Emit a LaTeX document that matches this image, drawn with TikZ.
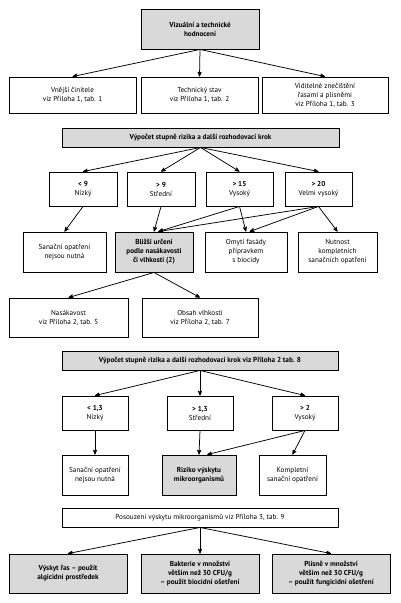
\documentclass[tikz,border=0pt]{standalone}
\usepackage{fontspec}
\setmainfont{PT Sans}
\usetikzlibrary{arrows.meta,arrows,positioning}

\tikzset{
    box/.style={draw,line width=0.9pt,align=center,inner sep=1pt,font=\fontsize{7.2}{9}\selectfont},
    greybox/.style={box,fill=black!15,font=\fontsize{7.2}{9}\selectfont\bfseries},
    mystyle/.style={->,line width=0.75pt}
}

\begin{document}
\begin{tikzpicture}[>=stealth',x=1pt,y=-1pt]
    \useasboundingbox (0,0) rectangle (400,603);

    \node[greybox,minimum width=118pt,minimum height=40pt] (H) at (200,29) {Vizuální a technické\\hodnocení};
    \node[box,minimum width=127pt,minimum height=36pt] (H_C1) at (72.5,95) {Vnější činitele\\viz Příloha 1, tab. 1};
    \node[box,minimum width=117pt,minimum height=36pt] (H_C2) at (199.5,95) {Technický stav\\viz Příloha 1, tab. 2};
    \node[box,minimum width=126pt,minimum height=36pt] (H_C3) at (325,95) {Viditelné znečištění\\řasami a plísněmi\\viz Příloha 1, tab. 3};

    \node[greybox,minimum width=277pt,minimum height=19pt] (V1) at (200.5,137.5) {Výpočet stupně rizika a další rozhodovací krok};
    \node[box,minimum width=68pt,minimum height=34pt] (V1_C1) at (83,189) {\textbf{< 9}\\Nízký};
    \node[box,minimum width=68pt,minimum height=34pt] (V1_C2) at (161,189) {\textbf{> 9}\\Střední};
    \node[box,minimum width=67pt,minimum height=34pt] (V1_C3) at (239.5,189) {\textbf{> 15}\\Vysoký};
    \node[box,minimum width=67pt,minimum height=34pt] (V1_C4) at (318.5,189) {\textbf{> 20}\\Velmi vysoký};

    \node[box,minimum width=83pt,minimum height=40pt] (S1) at (64.5,252) {Sanační opatření\\nejsou nutná};
    \node[greybox,minimum width=78pt,minimum height=40pt] (S2) at (154,252) {Bližší určení\\podle nasákavosti\\či vlhkosti (2)};
    \node[box,minimum width=82pt,minimum height=40pt] (S3) at (246,252) {Omytí fasády\\přípravkem\\s biocidy};
    \node[box,minimum width=79pt,minimum height=40pt] (S4) at (337.5,252) {Nutnost\\kompletních\\sanačních opatření};

    \node[box,minimum width=119pt,minimum height=39pt] (S2_C1) at (68.5,317.5) {Nasákavost\\viz Příloha 2, tab. 5};
    \node[box,minimum width=116pt,minimum height=39pt] (S2_C2) at (200,317.5) {Obsah vlhkosti\\viz Příloha 2, tab. 7};

    \node[greybox,minimum width=276pt,minimum height=19pt] (V2) at (200,360.5) {Výpočet stupně rizika a další rozhodovací krok viz Příloha 2 tab. 8};
    \node[box,minimum width=66pt,minimum height=34pt] (V2_C1) at (95,413) {\textbf{< 1,3}\\Nízký};
    \node[box,minimum width=66pt,minimum height=34pt] (V2_C2) at (200,413) {\textbf{> 1,3}\\Střední};
    \node[box,minimum width=66pt,minimum height=34pt] (V2_C3) at (305,413) {\textbf{> 2}\\Vysoký};

    \node[box,minimum width=66pt,minimum height=40pt] (P1) at (95,475) {Sanační opatření\\nejsou nutná};
    \node[greybox,minimum width=74pt,minimum height=40pt] (P2) at (199,475) {Riziko výskytu\\mikroorganismů};
    \node[box,minimum width=67pt,minimum height=40pt] (P3) at (292.5,475) {Kompletní\\sanační opatření};

    \node[box,minimum width=276pt,minimum height=19pt] (V3) at (200,517.5) {Posouzení výskytu mikroorganismů viz Příloha 3, tab. 9};
    \node[greybox,minimum width=118pt,minimum height=39pt] (V3_C1) at (68,573.5) {Výskyt řas – použít\\algicidní prostředek};
    \node[greybox,minimum width=118pt,minimum height=39pt] (V3_C2) at (200,573.5) {Bakterie v množství\\větším než 30 CFU/g\\– použít biocidní ošetření};
    \node[greybox,minimum width=118pt,minimum height=39pt] (V3_C3) at (331,573.5) {Plísně v množství\\větším než 30 CFU/g\\– použít fungicidní ošetření};

    \path (H.south) edge [mystyle] (H_C1.north);
    \path (H.south) edge [mystyle] (H_C2.north);
    \path (H.south) edge [mystyle] (H_C3.north);
    \path (V1.south) edge [mystyle] (V1_C1.north);
    \path (V1.south) edge [mystyle] (V1_C2.north);
    \path (V1.south) edge [mystyle] (V1_C3.north);
    \path (V1.south) edge [mystyle] (V1_C4.north);
    \path (V1_C1.south) edge [mystyle] (S1.north);
    \path (V1_C2.south) edge [mystyle] (S2.north);
    \path (V1_C3.south) edge [mystyle] (S2.78);
    \path (V1_C3.south) edge [mystyle] (S3.north);
    \path (V1_C4.south) edge [mystyle] (S2.78);
    \path (V1_C4.south) edge [mystyle] (S3.80);
    \path (V1_C4.south) edge [mystyle] (S4.north);
    \path (S2.south) edge [mystyle] (S2_C1.north);
    \path (S2.south) edge [mystyle] (S2_C2.north);
    \path (V2.south) edge [mystyle] (V2_C1.north);
    \path (V2.south) edge [mystyle] (V2_C2.north);
    \path (V2.south) edge [mystyle] (V2_C3.north);
    \path (V2_C1.south) edge [mystyle] (P1.north);
    \path (V2_C2.south) edge [mystyle] (P2.north);
    \path (V2_C3.south) edge [mystyle] (P2.68);
    \path (V2_C3.south) edge [mystyle] (P3.north);
    \path (V3.south) edge [mystyle] (V3_C1.north);
    \path (V3.south) edge [mystyle] (V3_C2.north);
    \path (V3.south) edge [mystyle] (V3_C3.north);

\end{tikzpicture}
\end{document}
